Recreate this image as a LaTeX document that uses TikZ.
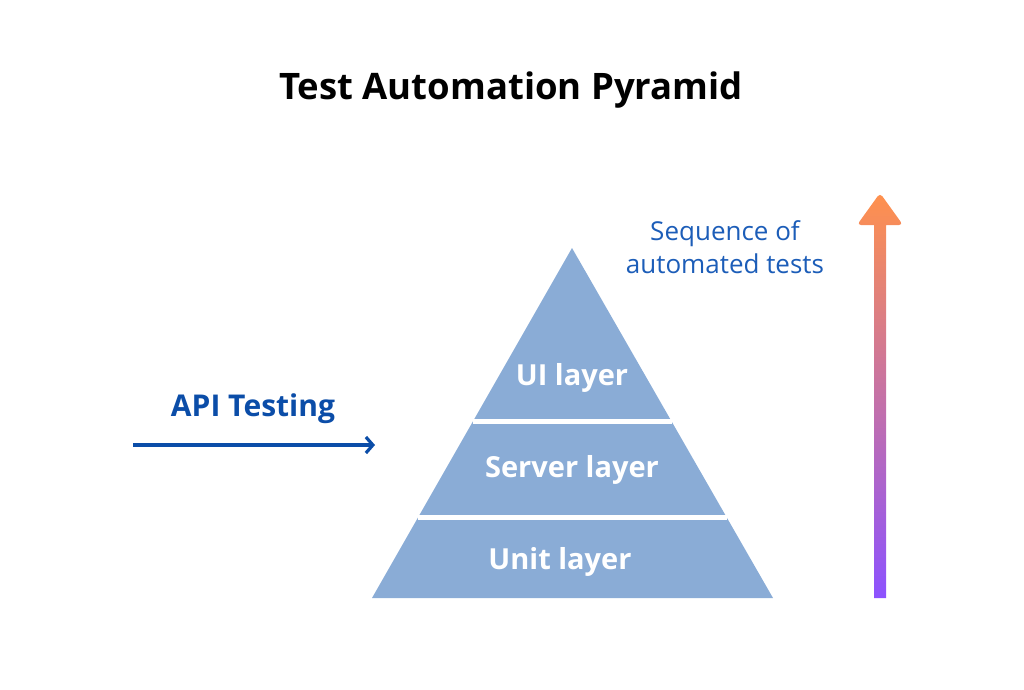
\documentclass[tikz,border=0pt]{standalone}
\usepackage{fontspec}
\setmainfont{Open Sans}
\usetikzlibrary{arrows.meta,calc}
\definecolor{LayerClr}{HTML}{8AACD6}
\definecolor{ApiClr}{HTML}{0B4DA8}
\definecolor{SeqClr}{HTML}{1C5DB8}
\definecolor{TopClr}{HTML}{FF914D}
\definecolor{BotClr}{HTML}{8C52FF}

\begin{document}
\begin{tikzpicture}[x=1pt,y=-1pt,
  layer/.style={anchor=base,text=white,font=\fontsize{29}{32}\selectfont\bfseries}]
\useasboundingbox (0,0) rectangle (1024,689);

\node[anchor=base,font=\fontsize{36.5}{44}\selectfont\bfseries] (title) at (511,99) {Test Automation Pyramid};

\coordinate (T) at (572,248);
\coordinate (L) at (372,598);
\coordinate (R) at (773,598);

\fill[LayerClr] (T) -- (L) -- (R) -- cycle;
\draw[white,line width=5pt] ($(T)!0.497!(L)$) -- ($(T)!0.497!(R)$);
\draw[white,line width=5pt] ($(T)!0.769!(L)$) -- ($(T)!0.769!(R)$);

\node[layer] (ui) at (572,385) {UI layer};
\node[layer] (server) at (572,477) {Server layer};
\node[layer] (unit) at (560,569) {Unit layer};

\node[anchor=base,text=ApiClr,font=\fontsize{30}{36}\selectfont\bfseries] (api) at (253,416) {API Testing};
\coordinate (apistart) at (133,445);
\coordinate (apiend) at (375,445);
\draw[ApiClr,line width=3.2pt,-{Straight Barb[length=7pt,width=16pt]}] (apistart) -- (apiend);

\node[anchor=base,align=center,text=SeqClr,font=\fontsize{26}{33}\selectfont] (seq) at (725,273) {Sequence of\\automated tests};

\shade[top color=TopClr,bottom color=BotClr] (874,598) -- (874,225)
  [rounded corners=4pt] -- (857,225) -- (880,193) -- (903,225) [sharp corners] -- (886,225) -- (886,598) -- cycle;

\end{tikzpicture}
\end{document}
